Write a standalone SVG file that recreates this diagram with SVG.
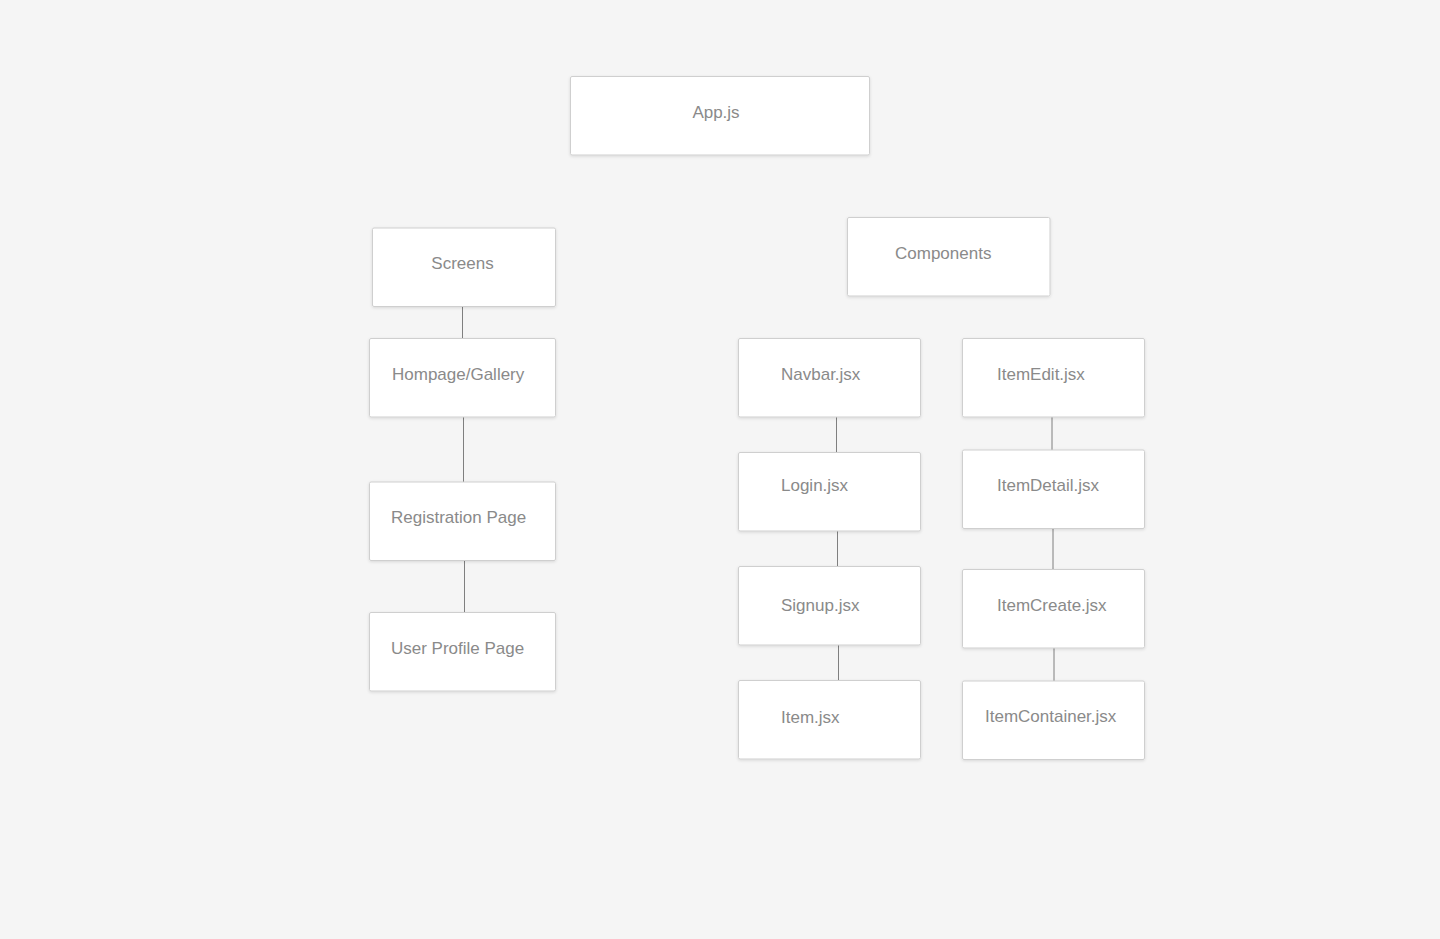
<svg xmlns="http://www.w3.org/2000/svg" width="1440" height="939" viewBox="0 0 1440 939">
<defs>
<filter id="sh" x="-10%" y="-10%" width="120%" height="130%">
<feDropShadow dx="0" dy="1" stdDeviation="1.5" flood-color="#000" flood-opacity="0.12"/>
</filter>
<style>
.box{fill:#fff;stroke:#cfcfcf;stroke-width:1;filter:url(#sh)}
.lbl{font-family:"Liberation Sans",Arial,Helvetica,sans-serif;font-size:17px;fill:#8a8a8a}
.c{text-anchor:middle}
.ln{stroke:#7f7f7f;stroke-width:1;fill:none}
</style>
</defs>
<rect width="1440" height="939" fill="#f5f5f5"/>
<g id="connectors">
<line class="ln" x1="462.5" y1="306.5" x2="462.5" y2="338.5"/>
<line class="ln" x1="463.5" y1="417" x2="463.5" y2="482"/>
<line class="ln" x1="464.5" y1="560.5" x2="464.5" y2="612.5"/>
<line class="ln" x1="836.5" y1="417" x2="836.5" y2="452.5"/>
<line class="ln" x1="837.5" y1="531" x2="837.5" y2="566.5"/>
<line class="ln" x1="838.5" y1="645" x2="838.5" y2="680.5"/>
<line class="ln" x1="1052" y1="417" x2="1052" y2="450"/>
<line class="ln" x1="1053" y1="528.5" x2="1053" y2="569.5"/>
<line class="ln" x1="1054" y1="648" x2="1054" y2="681"/>
</g>
<g id="app"><rect class="box" x="570.5" y="76.5" width="299" height="78.5" rx="1.5"/><text class="lbl c" x="716" y="118">App.js</text></g>
<g id="screens"><rect class="box" x="372.5" y="228" width="183" height="78.5" rx="1.5"/><text class="lbl c" x="462.5" y="269">Screens</text></g>
<g id="hompage"><rect class="box" x="369.5" y="338.5" width="186" height="78.5" rx="1.5"/><text class="lbl" x="392" y="379.5">Hompage/Gallery</text></g>
<g id="registration"><rect class="box" x="369.5" y="482" width="186" height="78.5" rx="1.5"/><text class="lbl" x="391" y="523">Registration Page</text></g>
<g id="userprofile"><rect class="box" x="369.5" y="612.5" width="186" height="78.5" rx="1.5"/><text class="lbl" x="391" y="654">User Profile Page</text></g>
<g id="components"><rect class="box" x="847.5" y="217.5" width="202.5" height="78.5" rx="1.5"/><text class="lbl" x="895" y="259">Components</text></g>
<g id="navbar"><rect class="box" x="738.5" y="338.5" width="182" height="78.5" rx="1.5"/><text class="lbl" x="781" y="379.5">Navbar.jsx</text></g>
<g id="login"><rect class="box" x="738.5" y="452.5" width="182" height="78.5" rx="1.5"/><text class="lbl" x="781" y="491">Login.jsx</text></g>
<g id="signup"><rect class="box" x="738.5" y="566.5" width="182" height="78.5" rx="1.5"/><text class="lbl" x="781" y="611">Signup.jsx</text></g>
<g id="item"><rect class="box" x="738.5" y="680.5" width="182" height="78.5" rx="1.5"/><text class="lbl" x="781" y="723">Item.jsx</text></g>
<g id="itemedit"><rect class="box" x="962.5" y="338.5" width="182" height="78.5" rx="1.5"/><text class="lbl" x="997" y="379.5">ItemEdit.jsx</text></g>
<g id="itemdetail"><rect class="box" x="962.5" y="450" width="182" height="78.5" rx="1.5"/><text class="lbl" x="997" y="491">ItemDetail.jsx</text></g>
<g id="itemcreate"><rect class="box" x="962.5" y="569.5" width="182" height="78.5" rx="1.5"/><text class="lbl" x="997" y="611">ItemCreate.jsx</text></g>
<g id="itemcontainer"><rect class="box" x="962.5" y="681" width="182" height="78.5" rx="1.5"/><text class="lbl" x="985" y="722">ItemContainer.jsx</text></g>
</svg>
